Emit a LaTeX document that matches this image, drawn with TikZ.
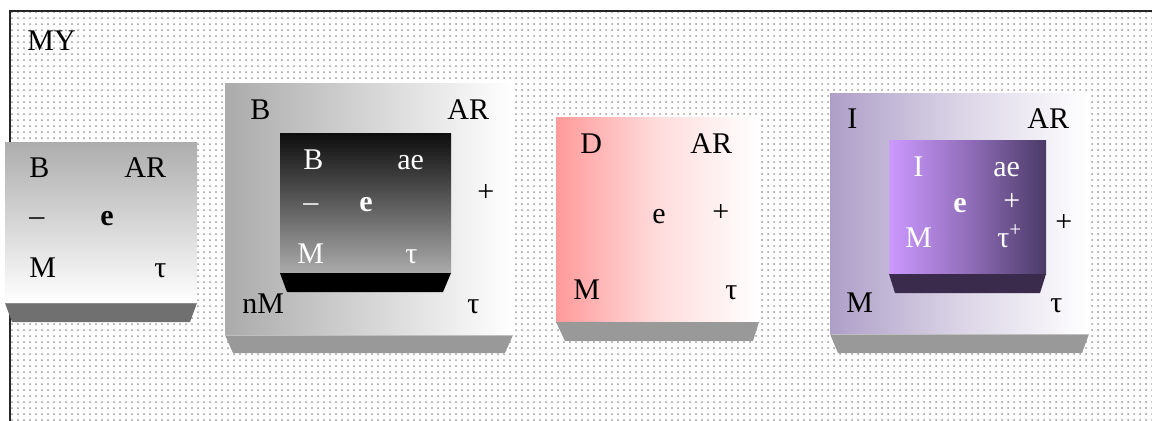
\documentclass[tikz,border=0pt]{standalone}
\usepackage{fontspec}
\setmainfont{Liberation Serif}
\usetikzlibrary{patterns}
\definecolor{pinkL}{HTML}{FF9A9A}
\definecolor{lilacL}{HTML}{AE9FC8}
\definecolor{violetL}{HTML}{CC99FF}
\definecolor{violetD}{HTML}{4A3A66}
\definecolor{violetB}{HTML}{3A2A4C}
\definecolor{gray1}{HTML}{707070}
\definecolor{gray2}{HTML}{999999}
\tikzset{
  txt/.style={font=\fontsize{15}{17}\selectfont, inner sep=0pt, anchor=base west, text=black},
  wtxt/.style={txt, text=white},
  btxt/.style={font=\fontsize{15}{17}\selectfont\bfseries},
}
\begin{document}
\begin{tikzpicture}[x=0.5pt,y=-0.5pt]
\useasboundingbox (0,0) rectangle (1152,420);
\clip (0,0) rectangle (1152,420);
\fill[white] (0,0) rectangle (1152,420);
\fill[pattern=dots, pattern color=black!40] (10,11) rectangle (1170,440);
\draw[line width=1pt, black!85] (10,11) rectangle (1170,440);
\node[txt] (my) at (27,50) {MY};

% box 1
\shade[top color=black!32, bottom color=white] (5,142) rectangle (197,303);
\fill[gray1] (5,303) -- (197,303) -- (190,322) -- (12,322) -- cycle;
\draw[black!45, line width=0.4pt] (5,303) -- (197,303);
\node[txt] (b1B) at (29,177) {B};
\node[txt] (b1AR) at (124,177) {AR};
\node[txt] (b1dash) at (29,225) {–};
\node[txt, btxt] (b1e) at (100,225) {e};
\node[txt] (b1M) at (29,277) {M};
\node[txt] (b1t) at (154,277) {τ};

% box 2
\shade[left color=black!33, right color=white] (225,83) rectangle (513,335);
\fill[gray2] (225,335) -- (513,335) -- (505,353) -- (233,353) -- cycle;
\draw[black!25, line width=0.4pt] (225,335) -- (513,335);
\shade[top color=black!95, bottom color=black!33] (280,133) rectangle (451,273);
\fill[black] (280,273) -- (451,273) -- (443,292) -- (287,292) -- cycle;
\node[txt] (b2B) at (250,119) {B};
\node[txt] (b2AR) at (447,119) {AR};
\node[txt] (b2plus) at (477,201) {+};
\node[txt] (b2nM) at (242,313) {nM};
\node[txt] (b2t) at (467,313) {τ};
\node[wtxt] (i2B) at (303,169) {B};
\node[wtxt] (i2ae) at (397,169) {ae};
\node[wtxt] (i2dash) at (303,211) {–};
\node[wtxt, btxt] (i2e) at (359,211) {e};
\node[wtxt] (i2M) at (297,263) {M};
\node[wtxt] (i2t) at (405,263) {τ};

% box 3
\shade[left color=pinkL, right color=white, middle color=pinkL!35] (556,117) rectangle (759,322);
\fill[gray2] (556,322) -- (759,322) -- (753,341) -- (565,341) -- cycle;
\node[txt] (b3D) at (580,153) {D};
\node[txt] (b3AR) at (690,153) {AR};
\node[txt] (b3e) at (652,223) {e};
\node[txt] (b3plus) at (712,221) {+};
\node[txt] (b3M) at (573,299) {M};
\node[txt] (b3t) at (725,299) {τ};

% box 4
\shade[left color=lilacL, right color=white, middle color=lilacL!45] (830,93) rectangle (1089,334);
\fill[gray2] (830,334) -- (1089,334) -- (1082,353) -- (838,353) -- cycle;
\draw[black!25, line width=0.4pt] (830,334) -- (1089,334);
\shade[left color=violetL, right color=violetD, middle color=violetL!55!violetD] (889,140) rectangle (1046,274);
\fill[violetB] (889,274) -- (1046,274) -- (1040,293) -- (895,293) -- cycle;
\node[txt] (b4I) at (847,128) {I};
\node[txt] (b4AR) at (1027,128) {AR};
\node[txt] (b4plus) at (1055,231) {+};
\node[txt] (b4M) at (846,312) {M};
\node[txt] (b4t) at (1050,312) {τ};
\node[wtxt] (i4I) at (913,176) {I};
\node[wtxt] (i4ae) at (993,176) {ae};
\node[wtxt, btxt] (i4e) at (953,212) {e};
\node[wtxt] (i4plus) at (1003,210) {+};
\node[wtxt] (i4M) at (905,247) {M};
\node[wtxt] (i4t) at (997,247) {τ\textsuperscript{+}};
\end{tikzpicture}
\end{document}
